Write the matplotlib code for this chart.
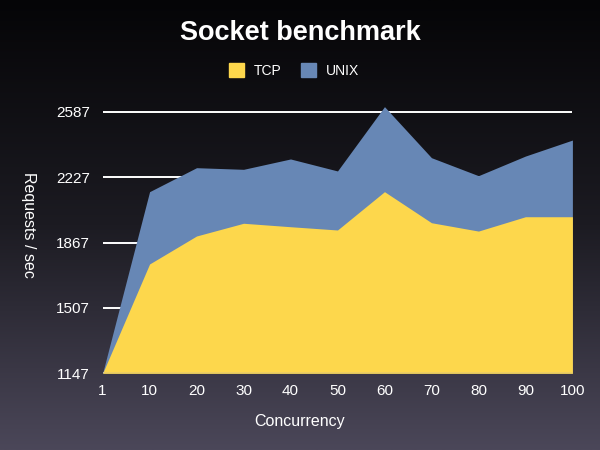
import numpy as np
import matplotlib
matplotlib.use("Agg")
import matplotlib.pyplot as plt
from matplotlib.patches import Patch
from matplotlib.colors import LinearSegmentedColormap

plt.rcParams['font.family'] = ['Liberation Sans', 'DejaVu Sans']

# data
concurrency = ["1", "10", "20", "30", "40", "50", "60", "70", "80", "90", "100"]
tcp = [1147, 1749, 1903, 1973, 1954, 1936, 2147, 1976, 1930, 2009, 2009]
unix = [1147, 2147, 2279, 2270, 2327, 2261, 2615, 2334, 2235, 2343, 2431]
y_ticks = [1147, 1507, 1867, 2227, 2587]

fig = plt.figure(figsize=(6, 4.5), dpi=100)

# background gradient
bg = fig.add_axes([0, 0, 1, 1], zorder=-10)
grad = np.linspace(0, 1, 256).reshape(-1, 1)
cmap = LinearSegmentedColormap.from_list("bg", ["#050507", "#1c1b22", "#4b4759"])
bg.imshow(grad, aspect="auto", cmap=cmap, extent=[0, 1, 0, 1], origin="upper")
bg.axis("off")

ax = fig.add_axes([0.171, 0.1704, 0.783, 0.6027])
ax.patch.set_alpha(0)
x = np.arange(len(concurrency))

for yt in y_ticks:
    ax.axhline(yt, color="white", lw=1.4, zorder=1)
ax.fill_between(x, y_ticks[0], unix, color="#6787b5", lw=0, zorder=2)
ax.fill_between(x, y_ticks[0], tcp, color="#fdd74c", lw=0, zorder=3)
ax.axhline(y_ticks[0], color="#b0aebb", lw=1.0, zorder=4)

ax.set_xlim(0, len(concurrency) - 1)
ax.set_ylim(y_ticks[0], 2640)
ax.set_xticks(x)
ax.set_xticklabels(concurrency)
ax.set_yticks(y_ticks)
ax.set_yticklabels([str(v) for v in y_ticks])
ax.tick_params(axis="both", colors="white", labelsize=11, length=0)
ax.tick_params(axis="x", pad=8)
ax.tick_params(axis="y", pad=9)
for s in ax.spines.values():
    s.set_visible(False)

fig.text(0.5, 0.927, "Socket benchmark", color="white", fontsize=19.5,
         fontweight="bold", ha="center", va="center")
fig.text(0.5, 0.063, "Concurrency", color="white", fontsize=11.5,
         ha="center", va="center")
fig.text(0.047, 0.5, "Requests / sec", color="white", fontsize=11.5,
         ha="center", va="center", rotation=-90)

handles = [Patch(color="#fdd74c", label="TCP"), Patch(color="#6787b5", label="UNIX")]
leg = fig.legend(handles=handles, loc="center", bbox_to_anchor=(0.49, 0.843),
                 ncol=2, frameon=False, fontsize=10, handlelength=1.1,
                 handleheight=1.1, handletextpad=0.7, columnspacing=1.4)
for t in leg.get_texts():
    t.set_color("white")

fig.savefig("out.png", dpi=100)
